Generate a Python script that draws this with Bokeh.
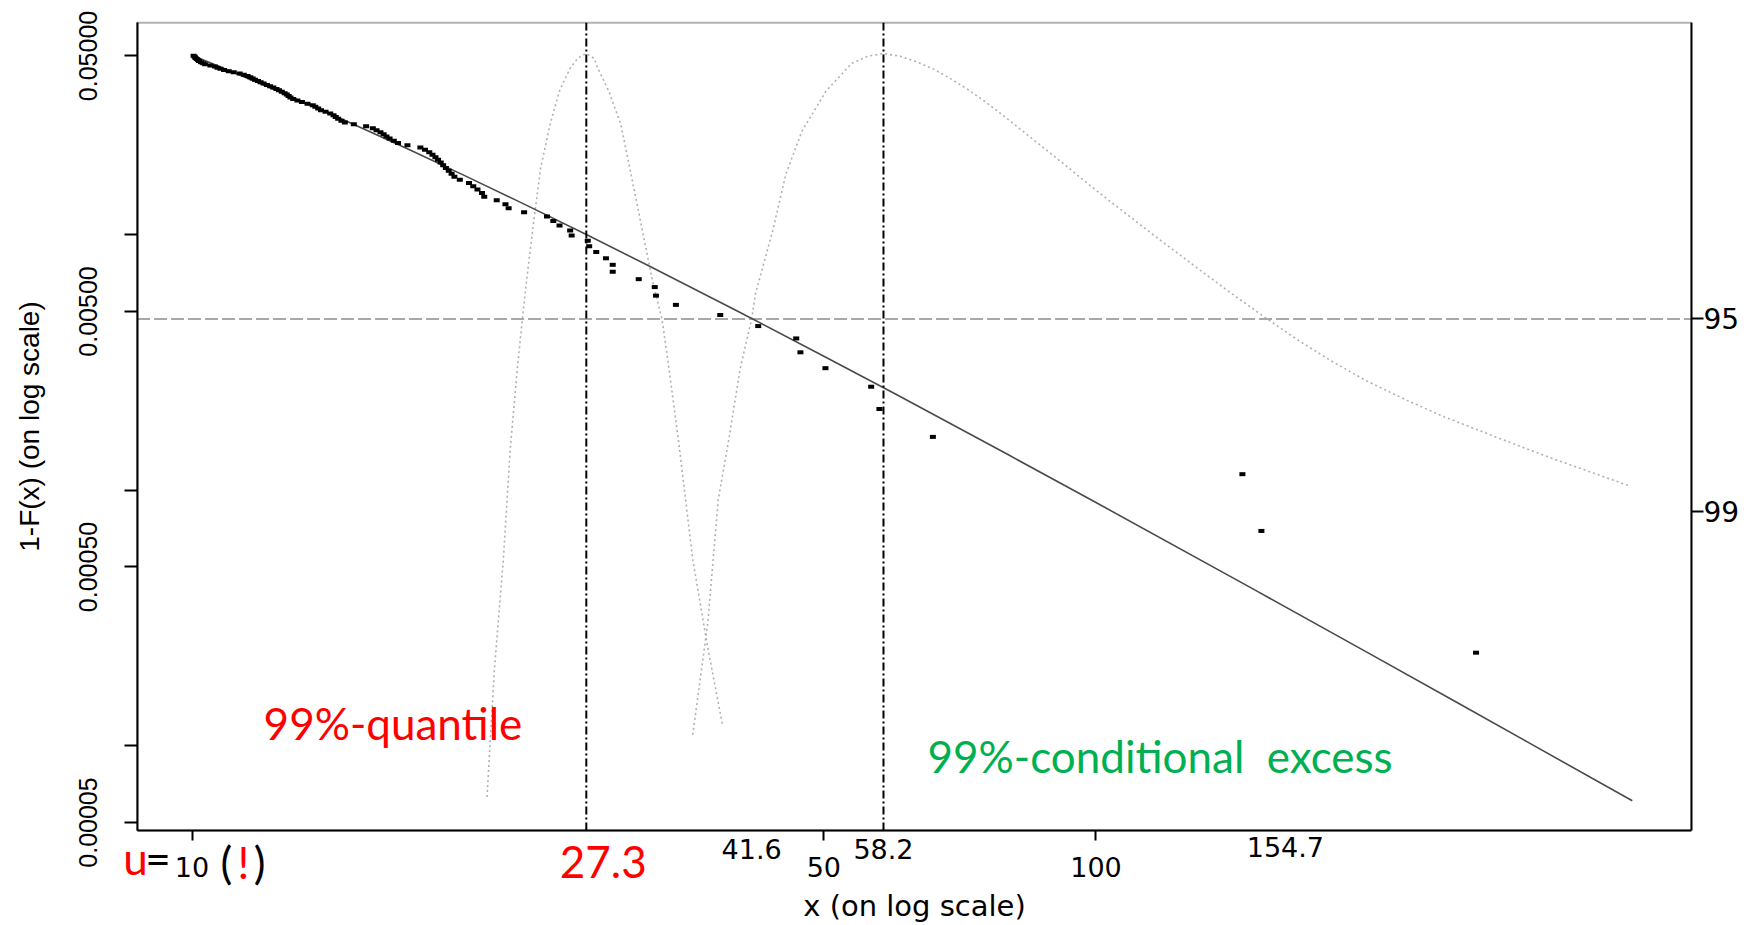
import math
from bokeh.plotting import figure
from bokeh.models import Range1d, LinearAxis, FixedTicker, Label, BoxAnnotation, LinearScale
from bokeh.embed import file_html
from bokeh.resources import INLINE

# ---------------- data ----------------
# exceedances over u = 10, in ascending order
exceed_x = [10.04, 10.07, 10.09, 10.12, 10.15, 10.18, 10.23, 10.29, 10.34, 10.48,
            10.60, 10.67, 10.75, 10.85, 10.98, 11.12, 11.29, 11.41, 11.52, 11.60,
            11.67, 11.74, 11.83, 11.91, 12.00, 12.10, 12.20, 12.30, 12.40, 12.48,
            12.57, 12.66, 12.73, 12.79, 12.85, 12.94, 13.08, 13.23, 13.42, 13.60,
            13.69, 13.79, 13.89, 14.05, 14.22, 14.34, 14.42, 14.51, 14.63, 14.76,
            15.10, 15.58, 15.85, 16.00, 16.16, 16.29, 16.41, 16.54, 16.72, 16.90,
            17.31, 17.89, 18.10, 18.30, 18.45, 18.59, 18.71, 18.84, 18.96, 19.09,
            19.23, 19.37, 19.51, 19.78, 20.25, 20.47, 20.69, 20.93, 21.05, 21.73,
            22.22, 22.40, 23.30, 24.70, 25.10, 25.50, 26.20, 26.30, 27.40, 27.50,
            28.00, 28.70, 29.20, 29.20, 31.20, 32.50, 32.60, 34.30, 38.40, 42.30,
            46.60, 47.10, 50.20, 56.40, 57.60, 66.00, 145.20, 152.40, 263.30]
exceed_y = [0.050069, 0.049608, 0.049146, 0.048685, 0.048223, 0.047762, 0.047300, 0.046839, 0.046377, 0.045916,
            0.045455, 0.044993, 0.044532, 0.044070, 0.043609, 0.043147, 0.042686, 0.042224, 0.041763, 0.041301,
            0.040840, 0.040378, 0.039917, 0.039455, 0.038994, 0.038532, 0.038071, 0.037610, 0.037148, 0.036687,
            0.036225, 0.035764, 0.035302, 0.034841, 0.034379, 0.033918, 0.033456, 0.032995, 0.032533, 0.032072,
            0.031610, 0.031149, 0.030688, 0.030226, 0.029765, 0.029303, 0.028842, 0.028380, 0.027919, 0.027457,
            0.026996, 0.026534, 0.026073, 0.025611, 0.025150, 0.024688, 0.024227, 0.023766, 0.023304, 0.022843,
            0.022381, 0.021920, 0.021458, 0.020997, 0.020535, 0.020074, 0.019612, 0.019151, 0.018689, 0.018228,
            0.017766, 0.017305, 0.016844, 0.016382, 0.015921, 0.015459, 0.014998, 0.014536, 0.014075, 0.013613,
            0.013152, 0.012690, 0.012229, 0.011767, 0.011306, 0.010844, 0.010383, 0.009922, 0.009460, 0.008999,
            0.008537, 0.008076, 0.007614, 0.007153, 0.006691, 0.006230, 0.005768, 0.005307, 0.004845, 0.004384,
            0.003922, 0.003461, 0.003000, 0.002538, 0.002077, 0.001615, 0.001154, 0.000692, 0.000231]

# fitted GPD tail estimate
tail_x = [10, 11, 12, 13.5, 15, 17.5, 20, 23, 27.3, 32, 40, 50, 60, 80, 100, 150, 200, 250, 300, 392]
tail_y = [0.0503, 0.0438, 0.0385, 0.03215, 0.02726, 0.02127, 0.01705, 0.01346, 0.0100, 0.00755,
          0.005045, 0.003342, 0.002376, 0.001374, 0.000894, 0.000406, 0.0002306, 0.0001485,
          0.0001034, 0.0000608]

# profile log-likelihood (drop from maximum) for the 99% quantile
q_prof_x = [21.2, 21.6, 22.1, 22.5, 22.9, 23.2, 23.45, 23.85, 24.3, 24.9, 25.5, 26.2, 26.75, 27.3,
            27.85, 28.1, 28.9, 29.8, 30.5, 31.4, 32.3, 33.1, 33.7, 34.6, 35.8, 37.2, 38.6]
q_prof_ll = [-5.38, -4.46, -3.66, -2.85, -2.28, -1.92, -1.64, -1.24, -0.83, -0.51, -0.27, -0.105, -0.03, 0.0,
             -0.035, -0.105, -0.27, -0.51, -0.83, -1.24, -1.64, -1.92, -2.28, -2.85, -3.66, -4.30, -4.85]

# profile log-likelihood for the 99% conditional excess (expected shortfall)
es_prof_x = [35.8, 37.2, 38.2, 39.3, 40.4, 41.6, 42.0, 43.9, 45.4, 47.3, 50.3, 53.7, 55.9, 58.2,
             60.72, 63.38, 66.15, 69.04, 72.06, 75.21, 78.49, 81.92, 86.73, 91.81, 97.19, 102.89,
             108.92, 115.30, 122.06, 131.09, 140.79, 154.7, 167.04, 181.93, 198.16, 220.83, 241.96,
             267.28, 295.30, 319.82, 350.42, 390.47]
es_prof_ll = [-4.93, -4.12, -3.23, -2.77, -2.28, -1.92, -1.74, -1.28, -0.87, -0.56, -0.27, -0.07, -0.02, 0.0,
              -0.020, -0.061, -0.113, -0.182, -0.258, -0.343, -0.436, -0.533, -0.662, -0.791, -0.924, -1.053,
              -1.178, -1.304, -1.427, -1.580, -1.730, -1.921, -2.071, -2.223, -2.361, -2.510, -2.625,
              -2.736, -2.845, -2.930, -3.023, -3.132]

x_ticks = [10, 50, 100]
x_tick_labels = ["10", "50", "100"]
y_ticks = [0.00005, 0.0005, 0.005, 0.05]
y_tick_labels = ["0.00005", "0.00050", "0.00500", "0.05000"]
y_minor_ticks = [0.0001, 0.001, 0.01]
conf_level_95 = -1.9207
conf_ticks = [-1.9207, -3.3174]
conf_labels = ["95", "99"]
ci_values = [41.6, 58.2, 154.7]
ci_labels = ["41.6", "58.2", "154.7"]
quantile_99 = 27.3
shortfall_99 = 58.2

# ---------------- geometry ----------------
W, H = 1755, 925
X_MIN, X_MAX = 6.1393, 455.8         # frame spans the page from its left edge
X_BOX_LEFT = 8.693                   # left side of the plot box
Y_MIN, Y_MAX = 1.9765e-5, 0.08243    # frame spans the page from top to bottom
Y_BOX, Y_BOX_TOP = 4.651e-5, 0.06738 # plot box
LIK_MIN, LIK_MAX = -6.3097, 0.3835
LIK_BOX = (-5.622, 0.2214)

p = figure(width=W, height=H, x_axis_type="log", y_axis_type="log",
           x_range=Range1d(X_MIN, X_MAX), y_range=Range1d(Y_MIN, Y_MAX),
           output_backend="svg", toolbar_location=None,
           min_border_left=0, min_border_right=64, min_border_top=0, min_border_bottom=0)
p.extra_y_ranges = {"lik": Range1d(LIK_MIN, LIK_MAX)}
p.extra_y_scales = {"lik": LinearScale()}
p.xgrid.visible = False
p.ygrid.visible = False
p.outline_line_color = None
p.background_fill_color = "white"
p.border_fill_color = "white"

R_FONT = "DejaVu Sans"
CAL = "Lato"

# bottom axis, drawn at the bottom of the box
xa = p.xaxis[0]
xa.fixed_location = Y_BOX
xa.bounds = (X_BOX_LEFT, X_MAX)
xa.ticker = FixedTicker(ticks=x_ticks)
xa.major_label_overrides = {t: l for t, l in zip(x_ticks, x_tick_labels)}
xa.major_tick_out = 10
xa.major_tick_in = 0
xa.minor_tick_line_color = None
xa.major_tick_line_width = 2
xa.axis_line_width = 2
xa.major_label_standoff = 16
xa.major_label_text_font = R_FONT
xa.major_label_text_font_size = "27px"
xa.major_label_text_color = "black"
xa.axis_label = "x (on log scale)"
xa.axis_label_standoff = 9
xa.axis_label_text_font = R_FONT
xa.axis_label_text_font_size = "29px"
xa.axis_label_text_font_style = "normal"
xa.axis_label_text_color = "black"

# left axis, drawn at the left side of the box
ya = p.yaxis[0]
ya.fixed_location = X_BOX_LEFT
ya.bounds = (Y_BOX, Y_BOX_TOP)
ya.ticker = FixedTicker(ticks=y_ticks, minor_ticks=y_minor_ticks)
ya.major_label_overrides = {t: l for t, l in zip(y_ticks, y_tick_labels)}
ya.major_label_orientation = "vertical"
ya.axis_line_width = 2
ya.major_tick_out = 13
ya.major_tick_in = 0
ya.minor_tick_out = 13
ya.minor_tick_in = 0
ya.minor_tick_line_width = 2
ya.minor_tick_line_color = "black"
ya.major_tick_line_width = 2
ya.major_label_standoff = 27
ya.major_label_text_font = "Liberation Sans"
ya.major_label_text_font_size = "25px"
ya.major_label_text_color = "black"
ya.axis_label = "1-F(x) (on log scale)"
ya.axis_label_text_font = "Liberation Sans"
ya.axis_label_text_font_size = "28px"
ya.axis_label_text_font_style = "normal"
ya.axis_label_text_color = "black"
ya.axis_label_standoff = 32

# right axis: confidence levels of the profile likelihood
ra = LinearAxis(y_range_name="lik", ticker=FixedTicker(ticks=conf_ticks), bounds=LIK_BOX,
                major_label_overrides={t: l for t, l in zip(conf_ticks, conf_labels)})
ra.major_tick_out = 12
ra.major_tick_in = 0
ra.minor_tick_line_color = None
ra.major_tick_line_width = 2
ra.axis_line_width = 2
ra.major_label_standoff = 0
ra.major_label_text_font = R_FONT
ra.major_label_text_font_size = "28px"
ra.major_label_text_color = "black"
p.add_layout(ra, "right")

# plot box
p.add_layout(BoxAnnotation(left=X_BOX_LEFT, right=X_MAX, bottom=Y_BOX, top=Y_BOX_TOP,
                           fill_color=None, line_color="black", line_width=2))

# ---------------- glyphs ----------------
p.line(q_prof_x, q_prof_ll, y_range_name="lik", line_color="#b0b0b0", line_width=1.6, line_dash="2 3")
p.line(es_prof_x, es_prof_ll, y_range_name="lik", line_color="#b0b0b0", line_width=1.6, line_dash="2 3")
p.segment(x0=[X_BOX_LEFT], y0=[conf_level_95], x1=[X_MAX], y1=[conf_level_95], y_range_name="lik",
          line_color="#a8a8a8", line_width=2, line_dash="13 4")
p.line(tail_x, tail_y, line_color="#4a4a4a", line_width=1.6)
p.rect(x=exceed_x, y=exceed_y, width=6, height=4, width_units="screen", height_units="screen",
       fill_color="black", line_color=None)
p.segment(x0=[quantile_99, shortfall_99], y0=[Y_BOX, Y_BOX], x1=[quantile_99, shortfall_99],
          y1=[Y_BOX_TOP, Y_BOX_TOP], line_color="black", line_width=2, line_dash="8 3 2 3")

# ---------------- texts ----------------
def add_label(x, text, dy, font, size, color, align="center", y=Y_BOX):
    p.add_layout(Label(x=x, y=y, y_offset=dy, text=text, text_font=font,
                       text_font_size=size, text_color=color, text_align=align,
                       text_baseline="alphabetic"))

for v, t in zip(ci_values, ci_labels):
    if t == "154.7":
        add_label(162.0, t, -16, R_FONT, "27px", "black")
    else:
        add_label(v, t, -18, R_FONT, "27px", "black")

add_label(28.5, "27.3", -31, CAL, "44px", "#ff0000")
add_label(8.66, "u", -27, CAL, "44px", "#ff0000")
add_label(9.17, "=", -27, CAL, "44px", "black")
add_label(10.917, "(", -31, CAL, "44px", "black")
add_label(11.40, "!", -31, CAL, "44px", "#ff0000")
add_label(11.88, ")", -31, CAL, "44px", "black")

add_label(12.0, "99%-quantile", 14, CAL, "44px", "#ff0000", align="left", y=1.08e-4)
add_label(65.1, "99%-conditional\u00a0 excess", 15, CAL, "44px", "#00b050", align="left", y=7.92e-5)

open("out.html", "w").write(file_html(p, INLINE))
